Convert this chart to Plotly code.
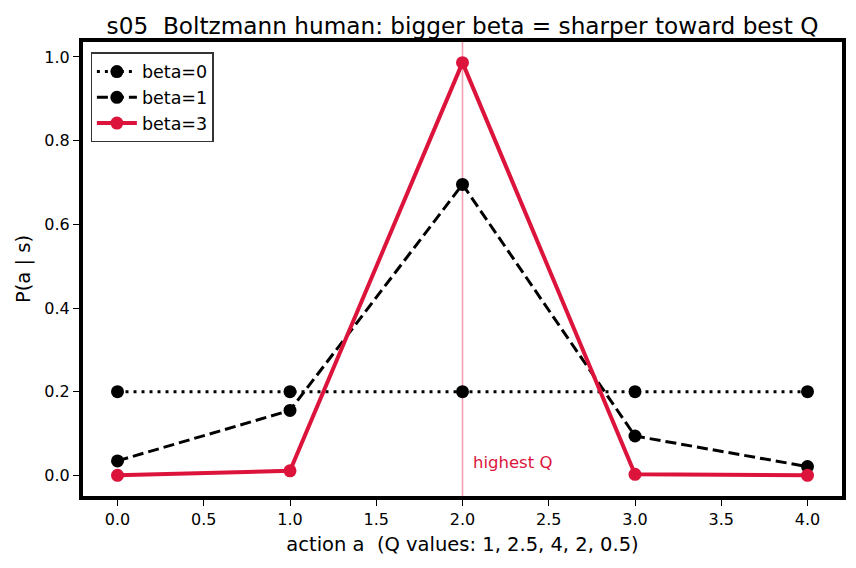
import plotly.graph_objects as go

actions = [0, 1, 2, 3, 4]
p_beta0 = [0.2, 0.2, 0.2, 0.2, 0.2]
p_beta1 = [0.0346, 0.1552, 0.6953, 0.0941, 0.0210]
p_beta3 = [0.00012, 0.01096, 0.98640, 0.00245, 0.00003]
series_names = ["beta=0", "beta=1", "beta=3"]
best_action = 2
x_ticks = [0.0, 0.5, 1.0, 1.5, 2.0, 2.5, 3.0, 3.5, 4.0]
y_ticks = [0.0, 0.2, 0.4, 0.6, 0.8, 1.0]

CRIMSON = "#DC143C"
FONT = "DejaVu Sans"

fig = go.Figure()
fig.add_trace(go.Scatter(x=actions, y=p_beta0, name=series_names[0], mode="lines+markers",
                         line=dict(color="black", width=3, dash="3px,5px"),
                         marker=dict(color="black", size=13)))
fig.add_trace(go.Scatter(x=actions, y=p_beta1, name=series_names[1], mode="lines+markers",
                         line=dict(color="black", width=3, dash="11px,5px"),
                         marker=dict(color="black", size=13)))
fig.add_trace(go.Scatter(x=actions, y=p_beta3, name=series_names[2], mode="lines+markers",
                         line=dict(color=CRIMSON, width=4),
                         marker=dict(color=CRIMSON, size=13)))

fig.add_vline(x=best_action, line=dict(color="rgba(220,20,60,0.4)", width=1.6), layer="below")
fig.add_annotation(x=best_action + 0.05, y=0.031, text="highest Q", showarrow=False,
                   xanchor="left", yanchor="middle", font=dict(color=CRIMSON, size=16.5, family=FONT))

fig.update_layout(
    width=856, height=568,
    margin=dict(l=83, r=10, t=42, b=72),
    paper_bgcolor="white", plot_bgcolor="white",
    font=dict(family=FONT, color="black", size=16),
    title=dict(text="s05  Boltzmann human: bigger beta = sharper toward best Q",
               x=0.5, xref="paper", xanchor="center", y=0.955, yanchor="middle",
               font=dict(size=23.2, family=FONT)),
    showlegend=True,
    legend=dict(x=0.01, y=0.977, xanchor="left", yanchor="top",
                bordercolor="#333", borderwidth=1.3, bgcolor="white",
                font=dict(size=17.5, family=FONT), tracegroupgap=0, itemwidth=40),
)
fig.update_xaxes(range=[-0.2, 4.2], tickvals=x_ticks, ticktext=[f"{v:.1f}" for v in x_ticks],
                 showgrid=False, zeroline=False, showline=True, linecolor="black", linewidth=4,
                 mirror=True, ticks="outside", ticklen=6, tickwidth=1.3, tickcolor="black",
                 tickfont=dict(size=16),
                 title=dict(text="action a  (Q values: 1, 2.5, 4, 2, 0.5)", font=dict(size=19.5), standoff=10))
fig.update_yaxes(range=[-0.0493, 1.0357], tickvals=y_ticks, ticktext=[f"{v:.1f}" for v in y_ticks],
                 showgrid=False, zeroline=False, showline=True, linecolor="black", linewidth=4,
                 mirror=True, ticks="outside", ticklen=6, tickwidth=1.3, tickcolor="black",
                 tickfont=dict(size=16),
                 title=dict(text="P(a | s)", font=dict(size=19.5), standoff=10))

fig.write_html("out.html")
